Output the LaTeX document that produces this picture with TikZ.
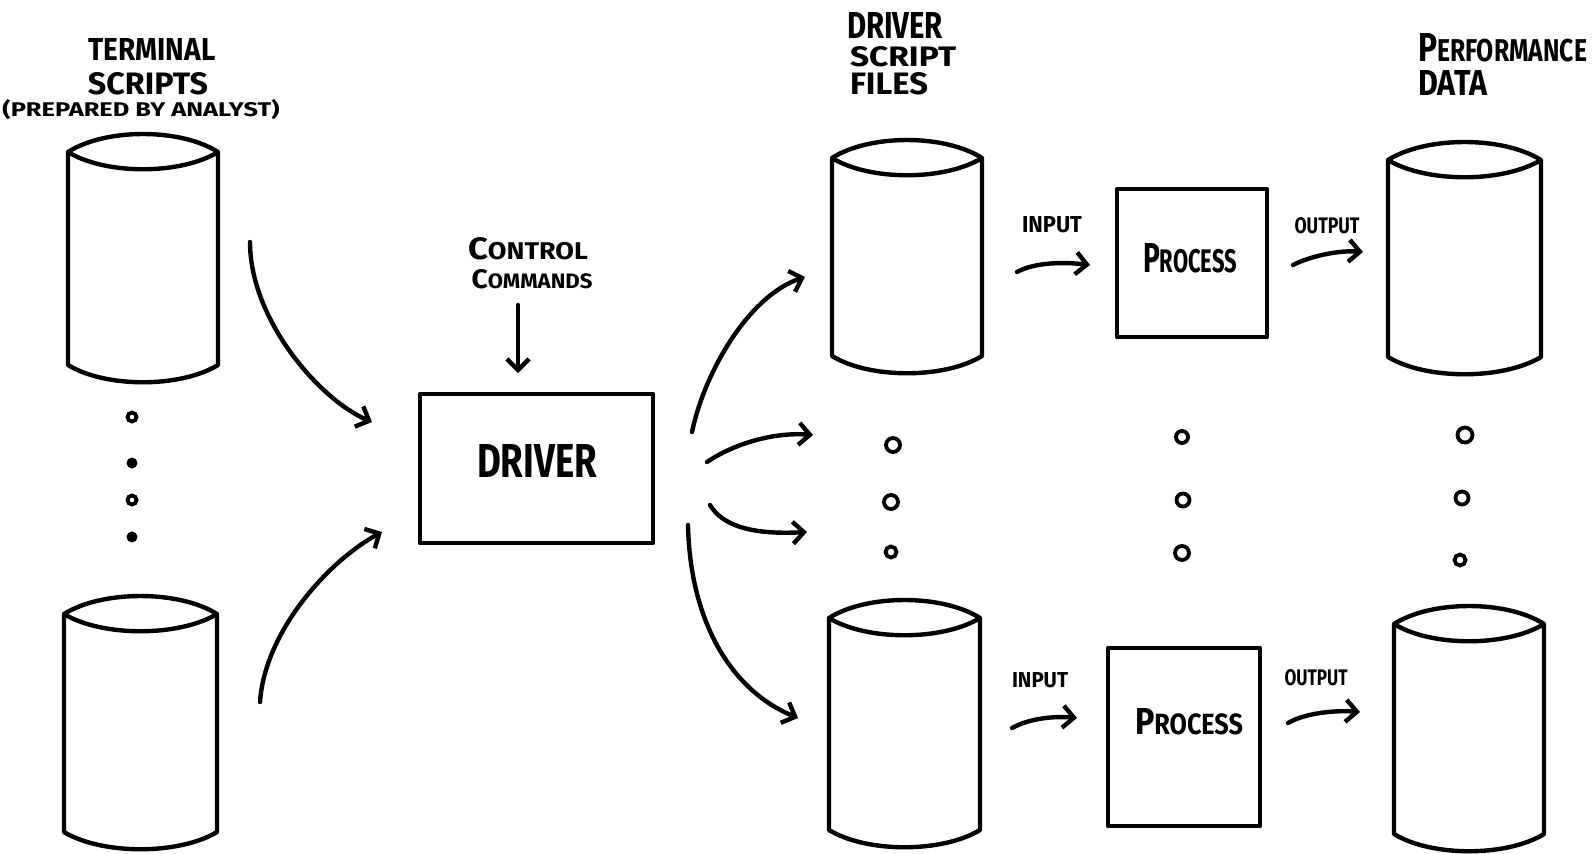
\documentclass[tikz,border=0pt]{standalone}
\usepackage{fontspec}
\setmainfont{Fira Sans}
\usepackage{graphicx}
\usetikzlibrary{arrows.meta}

% one drawing unit is half a point; lettering is sized in the same unit
\newdimen\hwu \hwu=0.5pt
\newcommand\hw[3]{\resizebox{#1\hwu}{#2\hwu}{\bfseries #3}}
\newcommand\smc[1]{\scalebox{0.78}{#1}}

\tikzset{
  ink/.style={line width=2.2pt, line cap=round, line join=round},
  flow/.style={ink, -{Straight Barb[length=5.5pt,width=11pt,line width=2.2pt]}},
  hand/.style={inner sep=0pt, outer sep=0pt},
  boxnode/.style={ink, draw, rectangle, inner sep=0pt},
  ring/.style={circle, draw, line width=1.9pt, inner sep=0pt},
  blob/.style={circle, draw, fill, line width=1.4pt, inner sep=0pt},
  % disk drum: #1 = width, #2 = height of the side walls
  pics/drum/.style 2 args={code={
    \draw[ink] (0,0) -- (0,#2)
      .. controls ({0.25*#1},{#2+23}) and ({0.75*#1},{#2+23}) .. (#1,#2)
      -- (#1,0)
      .. controls ({0.75*#1},-24) and ({0.25*#1},-24) .. (0,0)
      .. controls ({0.25*#1},23) and ({0.75*#1},23) .. (#1,0);
  }}
}

\begin{document}
\begin{tikzpicture}[x=0.5pt,y=-0.5pt]
\useasboundingbox (0,0) rectangle (1595,853);

% ---- storage drums
\pic (tsA) at (68,152)   {drum={150}{213}};
\pic (tsB) at (64,614)   {drum={153}{218}};
\pic (dsA) at (832,158)  {drum={150}{198}};
\pic (dsB) at (829,618)  {drum={151}{212}};
\pic (pdA) at (1388,160) {drum={153}{197}};
\pic (pdB) at (1394,624) {drum={150}{210}};

% ---- boxes
\node[boxnode, minimum width=116.5pt, minimum height=74.5pt] (driver) at (536.5,468.5) {};
\node[boxnode, minimum width=75pt, minimum height=74pt]      (procA)  at (1192,263) {};
\node[boxnode, minimum width=76pt, minimum height=89pt]      (procB)  at (1184,737) {};

% ---- lettering
\node[hand] (termA) at (152,49)  {\hw{127}{22}{TERMINAL}};
\node[hand] (termB) at (148,84)  {\hw{120}{22}{SCRIPTS}};
\node[hand] (termC) at (141,110) {\hw{277}{17}{(PREPARED BY ANALYST)}};

\node[hand, anchor=west] (dsfA) at (847,25) {\hw{96}{26}{DRIVER}};
\node[hand, anchor=west] (dsfB) at (850,57) {\hw{106}{20}{SCRIPT}};
\node[hand, anchor=west] (dsfC) at (850,84) {\hw{78}{22}{FILES}};

\node[hand, anchor=west] (perfA) at (1418,48) {\hw{169}{28}{P\smc{ERFORMANCE}}};
\node[hand, anchor=west] (perfB) at (1418,83) {\hw{69}{25}{DATA}};

\node[hand] (ctlA) at (528,249) {\hw{120}{22}{C\smc{ONTROL}}};
\node[hand] (ctlB) at (532,279) {\hw{121}{19}{C\smc{OMMANDS}}};

\node[hand] (drvtxt) at (537,461)  {\hw{120}{33}{DRIVER}};
\node[hand] (prAtxt) at (1190,258) {\hw{94}{29}{P\smc{ROCESS}}};
\node[hand] (prBtxt) at (1189,722) {\hw{108}{26}{P\smc{ROCESS}}};

\node[hand] (inA)  at (1052,225) {\hw{60}{16}{INPUT}};
\node[hand] (outA) at (1327,226) {\hw{65}{16}{OUTPUT}};
\node[hand] (inB)  at (1040,680) {\hw{56}{15}{INPUT}};
\node[hand] (outB) at (1316,678) {\hw{63}{16}{OUTPUT}};

% ---- arrow end points
\coordinate (ccS) at (518,305);   \coordinate (ccE) at (518,373);
\coordinate (l1S) at (250,242);   \coordinate (l1E) at (372,422);
\coordinate (l2S) at (260,702);   \coordinate (l2E) at (382,532);
\coordinate (f1S) at (692,432);   \coordinate (f1E) at (805,277);
\coordinate (f2S) at (707,462);   \coordinate (f2E) at (813,435);
\coordinate (f3S) at (710,505);   \coordinate (f3E) at (807,532);
\coordinate (f4S) at (688,525);   \coordinate (f4E) at (798,718);
\coordinate (iaS) at (1017,272);  \coordinate (iaE) at (1090,265);
\coordinate (oaS) at (1293,265);  \coordinate (oaE) at (1363,252);
\coordinate (ibS) at (1012,728);  \coordinate (ibE) at (1077,718);
\coordinate (obS) at (1288,723);  \coordinate (obE) at (1360,712);

% ---- arrows
\draw[flow] (ccS) -- (ccE);
\draw[flow] (l1S) .. controls (250,320) and (320,400) .. (l1E);
\draw[flow] (l2S) .. controls (265,630) and (330,560) .. (l2E);
\draw[flow] (f1S) .. controls (705,370) and (750,295) .. (f1E);
\draw[flow] (f2S) .. controls (735,443) and (775,432) .. (f2E);
\draw[flow] (f3S) .. controls (722,525) and (750,535) .. (f3E);
\draw[flow] (f4S) .. controls (690,620) and (730,690) .. (f4E);
\draw[flow] (iaS) .. controls (1035,262) and (1065,262) .. (iaE);
\draw[flow] (oaS) .. controls (1310,256) and (1340,250) .. (oaE);
\draw[flow] (ibS) .. controls (1030,718) and (1055,716) .. (ibE);
\draw[flow] (obS) .. controls (1305,713) and (1335,710) .. (obE);

% ---- continuation dots
\node[ring, minimum size=4.5pt] (tdA) at (132,417) {};
\node[blob, minimum size=4pt]   (tdB) at (132,463) {};
\node[ring, minimum size=4.5pt] (tdC) at (132,500) {};
\node[blob, minimum size=4pt]   (tdD) at (132,537) {};

\node[ring, minimum size=7pt]   (ddA) at (893,445) {};
\node[ring, minimum size=7pt]   (ddB) at (891,502) {};
\node[ring, minimum size=5.5pt] (ddC) at (891,552) {};

\node[ring, minimum size=6pt]   (pcA) at (1182,437) {};
\node[ring, minimum size=6.5pt] (pcB) at (1183,500) {};
\node[ring, minimum size=7pt]   (pcC) at (1182,553) {};

\node[ring, minimum size=7.5pt] (pfA) at (1465,435) {};
\node[ring, minimum size=6.5pt] (pfB) at (1462,498) {};
\node[ring, minimum size=5.5pt] (pfC) at (1460,560) {};
\end{tikzpicture}
\end{document}
